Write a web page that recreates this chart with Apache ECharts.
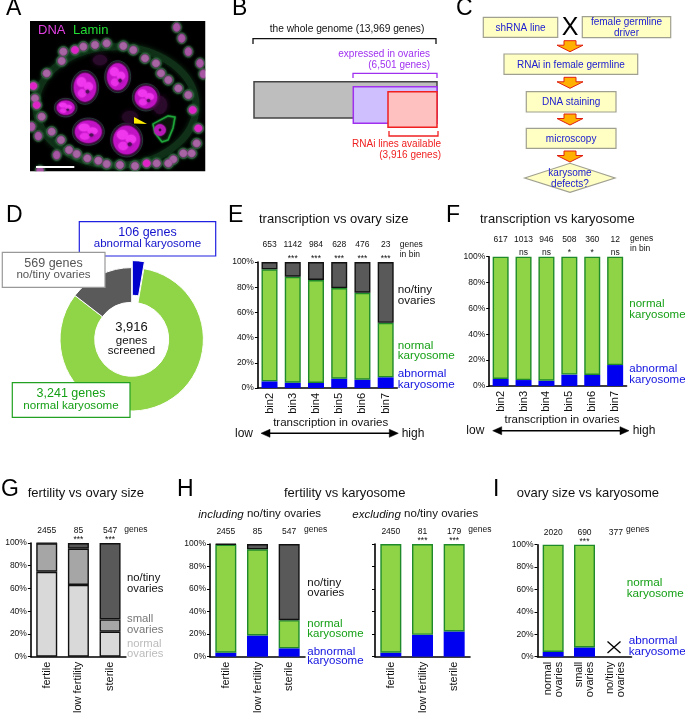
<!DOCTYPE html>
<html><head><meta charset="utf-8">
<style>html,body{margin:0;padding:0;background:#fff}#c{width:685px;height:716px}</style>
<script src="https://cdn.jsdelivr.net/npm/echarts@6/dist/echarts.min.js"></script>
</head><body><div id="c"></div>
<script>
// ---------- DATA ----------
const binCats = ['bin2','bin3','bin4','bin5','bin6','bin7'];
const fertCats = ['fertile','low fertility','sterile'];
const ovaryCats = ['normal\novaries','small\novaries','no/tiny\novaries'];

const donutNames = ['abnormal karyosome','normal karyosome','no/tiny ovaries'];
const donutGenes = [106,3241,569];

const eCounts = ['653','1142','984','628','476','23'];
const eStars  = ['','***','***','***','***','***'];
const eAbnormal = [5.3,4.2,4.0,7.4,6.6,8.5];
const eNormal   = [88.9,84.1,81.7,71.9,69.0,43.2];
const eNoTiny   = [5.8,11.7,14.3,20.7,24.4,48.3];

const fCounts = ['617','1013','946','508','360','12'];
const fStars  = ['','ns','ns','*','*','ns'];
const fAbnormal = [5.4,4.6,4.1,8.8,8.5,16.2];
const fNormal   = [94.6,95.4,95.9,91.2,91.5,83.8];

const gCounts = ['2455','85','547'];
const gStars  = ['','***','***'];
const gNormalOv = [74.7,63.1,22.0];
const gSmallOv  = [25.0,31.9,10.8];
const gNoTiny   = [0.3,5.0,67.2];

const h1Counts = ['2455','85','547'];
const h1Stars  = ['','',''];
const h1Abnormal = [3.5,18.8,7.4];
const h1Normal   = [96.0,76.5,25.0];
const h1NoTiny   = [0.5,4.7,67.6];

const h2Counts = ['2450','81','179'];
const h2Stars  = ['','***','***'];
const h2Abnormal = [3.5,19.4,22.4];
const h2Normal   = [96.5,80.6,77.6];

const iCounts = ['2020','690','377'];
const iStars  = ['','***',''];
const iAbnormal = [4.2,8.3,null];
const iNormal   = [95.8,91.7,null];

// ---------- STYLE ----------
const FONT='"Liberation Sans",Arial,sans-serif';
const C={green:'#8fd446',gEdge:'#1f8a2a',gText:'#16a016',blue:'#0000f0',bText:'#1212e0',
  dark:'#595959',mid:'#a6a6a6',light:'#d9d9d9'};
const gfx=[];
function T(x,y,text,size,fill,align,extra){
  gfx.push({type:'text',silent:true,z:20,style:Object.assign({x:x,y:y,text:text,fill:fill||'#111',
    font:(size||11)+'px '+FONT,fontSize:size||11,fontFamily:FONT,align:align||'left',textAlign:align||'left',verticalAlign:'middle',textVerticalAlign:'middle'},extra||{})});
}
function R(x0,y0,x1,y1,fill,stroke,lw,z){
  gfx.push({type:'rect',silent:true,z:z||10,shape:{x:x0,y:y0,width:x1-x0,height:y1-y0},style:{fill:fill,stroke:stroke,lineWidth:lw||1}});
}
function P(points,stroke,lw,fill,z){
  gfx.push({type:fill?'polygon':'polyline',silent:true,z:z||10,shape:{points:points},style:{fill:fill||'none',stroke:stroke,lineWidth:lw||1}});
}
function E(cx,cy,rx,ry,fill,stroke,lw,blur,z,rot){
  gfx.push({type:'ellipse',silent:true,z:z||5,x:cx,y:cy,rotation:rot||0,shape:{cx:0,cy:0,rx:rx,ry:ry},
    style:{fill:fill||'none',stroke:stroke||'none',lineWidth:lw||1,shadowBlur:blur||0,shadowColor:blur?(stroke||fill):'transparent'}});
}

// panels letters
[['A',6,9],['B',232,9],['C',456,9],['D',6,216],['E',228,216],['F',446,216],['G',1,490],['H',177,490],['I',493,490]]
 .forEach(l=>T(l[1],l[2],l[0],23,'#000'));

// ---------- Panel A (micrograph drawn as decoration) ----------
R(30,21,205.5,171.5,'#000','none',1,2);
const follicle=[[190,155],[225,150],[250,140],[285,135],[320,130],[370,138],[400,150],[435,175],[468,190],[483,220],[505,240],[535,265],[565,285],[578,330],[595,385],[590,430],[575,460],[550,460],[520,478],[505,490],[470,490],[440,490],[405,498],[360,495],[320,492],[295,482],[262,475],[230,462],[207,450],[183,420],[155,395],[125,350],[110,315],[105,295],[100,258],[140,220],[185,183]];
const bright=[[225,150],[100,258],[578,330],[595,385],[440,490],[110,315]];
const outer=[[530,82],[545,115],[565,155],[600,190],[610,222],[170,465],[115,408],[95,380],[120,512]];
E(348/3,318/3,240/3,178/3,'none','#103018',7,5,3);
follicle.forEach(p=>{E(p[0]/3,p[1]/3,5.2,5.2,'#2c3a2e','#1c7030',.7,3,4);E(p[0]/3,p[1]/3,3.7,3.7,'#a868a4','#9a5098',.5,3,5);});
outer.forEach(p=>{E(p[0]/3,p[1]/3,4.6,5.4,'#2a382c','#1c6a2c',.7,3,4);E(p[0]/3,p[1]/3,3.4,4.1,'#a858a4','#9a4898',.5,3,5);});
bright.forEach(p=>E(p[0]/3,p[1]/3,3.2,3,'#e024c8','#e024c8',.5,2,6));
[[255,262,35,45],[353,230,33,42],[438,292,35,35],[197,323,28,22],[265,395,42,35],[380,420,42,45]].forEach(n=>{
  const x=n[0]/3,y=n[1]/3,a=n[2]/3,b=n[3]/3;
  E(x,y,a+2,b+2,'#0a0e0a','#0d5e2c',.7,0,5);
  E(x,y,a*.94,b*.94,'#c014c4','#c014c4',.5,4,6);
  E(x-a*.3,y-b*.35,a*.38,b*.3,'#f038ee','#f038ee',.5,2,7);
  E(x+a*.3,y-b*.05,a*.35,b*.28,'#f038ee','#f038ee',.5,2,7);
  E(x-a*.25,y+b*.4,a*.33,b*.26,'#ea30e8','#ea30e8',.5,2,7);
  E(x+a*.22,y+b*.28,a*.13,b*.11,'#50105a','#50105a',.5,2,8);
});
E(160,105,7,9,'#2c0c2c','#2c0c2c',.5,6,5);E(130,117,8,6,'#240a24','#240a24',.5,6,5);E(100,60,7,5,'#2c0c2c','#2c0c2c',.5,6,5);
gfx.push({type:'polygon',silent:true,z:8,shape:{points:[[153,124],[168,116],[175,117],[173,128],[168,140],[162,142],[155,133]]},style:{fill:'#0a120a',stroke:'#1fa53a',lineWidth:1.4,shadowBlur:2,shadowColor:'#1fa53a'}});
E(160,130,5.5,5.5,'#b81ab8','#b81ab8',.5,2,9);E(160,130,1.4,1.4,'#400a40',null,1,0,10);
P([[134,117],[134,123.5],[147,124]],'none',1,'#ffee00',9);
R(36,166,74.3,168,'#fff','none',1,12);
T(38,30.5,'DNA',13,'#e040e0');T(73,30.5,'Lamin',13,'#22dd33');
R(0,18,30,175,'#fff','none',1,9);R(205.5,18,225,175,'#fff','none',1,9);R(0,171.5,225,182,'#fff','none',1,9);R(0,10,225,21,'#fff','none',1,9);

// ---------- Panel B ----------
T(347,29,'the whole genome (13,969 genes)',10.2,'#111','center');
P([[253,44],[253,38.7],[436,38.7],[436,44]],'#111',1.3);
R(254,81.7,437,118,'#bebebe','#444',1.5);
R(353.3,86.7,437,123.3,'#d0bfff','#a030f0',1.5);
R(388,91.7,437,127.3,'#ffc0c0','#f02020',1.5);
T(430,54.7,'expressed in ovaries',10,'#a030f0','right');T(430,65.7,'(6,501 genes)',10,'#a030f0','right');
P([[353,78],[353,73.3],[437,73.3],[437,78]],'#a030f0',1.3);
P([[389,131],[389,136],[438,136],[438,131]],'#f02020',1.3);
T(441,144.7,'RNAi lines available',10,'#f02020','right');T(441,155.7,'(3,916 genes)',10,'#f02020','right');

// ---------- Panel C ----------
const BOX='#ffffc4',EDGE='#a0a090',TX='#2020d0';
function cbox(x0,y0,x1,y1,lines){
  R(x0,y0,x1,y1,BOX,EDGE,1.2);
  const cx=(x0+x1)/2,cy=(y0+y1)/2+.7;
  lines.forEach((s,i)=>T(cx,cy+(i-(lines.length-1)/2)*11,s,10,TX,'center'));
}
cbox(483.3,17.3,557.7,37.3,['shRNA line']);
cbox(582.3,16.7,670.7,37.7,['female germline','driver']);
cbox(504,54,637.7,74.3,['RNAi in female germline']);
cbox(526.3,91.7,616,112,['DNA staining']);
cbox(526.3,128.3,616,148.3,['microscopy']);
T(570,28,'X',25,'#000','center');
P([[524.7,178],[570,163.3],[615,178],[570,192.3]],EDGE,1.2,BOX);
T(570,173.5,'karysome',10,TX,'center');T(570,184.5,'defects?',10,TX,'center');
[40.7,77.3,114,151].forEach(y=>{
  P([[564,y],[576,y],[576,y+4.5],[583,y+4.5],[570,y+11],[557,y+4.5],[564,y+4.5]],'#e02010',1,'#ffb000');
});

// ---------- Panel D ----------
R(79.3,221.7,215.7,256,'#fff','#2020e0',1.2,12);
T(147.5,232.3,'106 genes',12.5,'#1212cc','center');T(147.5,244,'abnormal karyosome',11.5,'#1212cc','center');
R(2.3,252.3,105,287.3,'#fff','#999',1.2,12);
T(53.5,264,'569 genes',12.5,'#555','center');T(53.5,275.3,'no/tiny ovaries',11.5,'#555','center');
R(12.3,382.7,130,417.3,'#fff','#22a022',1.2,12);
T(71,393.7,'3,241 genes',12.5,'#16a016','center');T(71,405.3,'normal karyosome',11.6,'#16a016','center');
T(131.5,327,'3,916',13,'#111','center');T(131.5,340.7,'genes',11.5,'#111','center');T(131.5,351.3,'screened',11.5,'#111','center');

// ---------- Bar panels ----------
const grids=[],xAxes=[],yAxes=[],series=[];
function panel(o){
  const g=grids.length;
  grids.push({left:o.left,top:o.top,width:o.width,height:o.height});
  const bx=xAxes.length;
  const common={gridIndex:g,type:'category',axisTick:{show:false}};
  xAxes.push(Object.assign({},common,{data:o.cats,position:'bottom',
    axisLine:{show:true,onZero:false,lineStyle:{color:'#000',width:1.6}},
    axisLabel:{show:!o.noX,interval:0,rotate:90,margin:5,fontSize:11,lineHeight:11,color:'#111',fontFamily:FONT}}));
  xAxes.push(Object.assign({},common,{data:o.counts,position:'top',axisLine:{show:false},
    axisLabel:{interval:0,margin:o.cm,fontSize:8.5,color:'#111',fontFamily:FONT}}));
  xAxes.push(Object.assign({},common,{data:o.stars,position:'top',axisLine:{show:false},
    axisLabel:{interval:0,margin:o.sm,fontSize:8.5,color:'#111',fontFamily:FONT}}));
  yAxes.push({gridIndex:g,type:'value',min:0,max:100,interval:20,position:'left',offset:o.yOff||0,
    axisLine:{show:true,lineStyle:{color:'#000',width:1.6}},axisTick:{show:true,length:3,lineStyle:{color:'#000',width:1}},
    splitLine:{show:false},axisLabel:{show:!o.noY,formatter:'{value}%',margin:4,fontSize:8.5,color:'#111',fontFamily:FONT}});
  o.series.forEach(s=>series.push({type:'bar',name:s.name,stack:'p'+g,xAxisIndex:bx,yAxisIndex:g,barWidth:o.barWidth,
    data:s.data,itemStyle:{color:s.color,borderColor:s.edge,borderWidth:s.edge==='none'?0:1.4},silent:true}));
}
const ser3=(a,n,t)=>[{name:'abnormal karyosome',data:a,color:C.blue,edge:'none'},{name:'normal karyosome',data:n,color:C.green,edge:C.gEdge},{name:'no/tiny ovaries',data:t,color:C.dark,edge:'#111'}];
const ser2=(a,n)=>[{name:'abnormal karyosome',data:a,color:C.blue,edge:'none'},{name:'normal karyosome',data:n,color:C.green,edge:C.gEdge}];

panel({left:257.9,top:262,width:139.4,height:126,cats:binCats,counts:eCounts,stars:eStars,cm:13,sm:-1,barWidth:16,series:ser3(eAbnormal,eNormal,eNoTiny)});
panel({left:489.2,top:256.7,width:137.4,height:129.3,cats:binCats,counts:fCounts,stars:fStars,cm:13,sm:0,barWidth:16,series:ser2(fAbnormal,fNormal)});
panel({left:30.9,top:543,width:95,height:114.7,cats:fertCats,counts:gCounts,stars:gStars,cm:8,sm:-1,barWidth:21,
  series:[{name:'normal ovaries',data:gNormalOv,color:C.light,edge:'#111'},{name:'small ovaries',data:gSmallOv,color:C.mid,edge:'#111'},{name:'no/tiny ovaries',data:gNoTiny,color:C.dark,edge:'#111'}]});
panel({left:210,top:544,width:95,height:113.3,cats:fertCats,counts:h1Counts,stars:h1Stars,cm:8,sm:-1,barWidth:21,series:ser3(h1Abnormal,h1Normal,h1NoTiny)});
panel({left:375,top:544,width:95,height:113.3,cats:fertCats,counts:h2Counts,stars:h2Stars,cm:8,sm:-1,barWidth:21,noY:true,series:ser2(h2Abnormal,h2Normal)});
panel({left:537.5,top:544.7,width:94,height:112,cats:ovaryCats,counts:iCounts,stars:iStars,cm:8,sm:-1,barWidth:21,series:ser2(iAbnormal,iNormal)});

// Panel texts
function lab(x,y,a,b,size,col,gap){T(x,y,a,size,col);T(x,y+(gap||10.7),b,size,col);}
T(259,219,'transcription vs ovary size',13);
T(399.7,244.3,'genes',8.5);T(399.7,254.7,'in bin',8.5);
lab(397.7,290,'no/tiny','ovaries',11.7,'#111');lab(397.7,345.3,'normal','karyosome',11.7,C.gText);lab(397.7,373.7,'abnormal','karyosome',11.7,C.bText);
T(330.7,422.7,'transcription in ovaries',11.5,'#111','center');T(244,433.3,'low',12,'#111','center');T(401.7,433.3,'high',12);
function arrow(x0,x1,y){P([[x0+6,y],[x1-6,y]],'#000',1.4);P([[x0,y],[x0+9,y-4],[x0+9,y+4]],'#000',.5,'#000');P([[x1,y],[x1-9,y-4],[x1-9,y+4]],'#000',.5,'#000');}
arrow(261,398.3,433.3);

T(480,219,'transcription vs karyosome',13);
T(630,239,'genes',8.5);T(630,249,'in bin',8.5);
lab(629.3,304.3,'normal','karyosome',11.5,C.gText);lab(629.3,369,'abnormal','karyosome',11.5,C.bText);
T(562,420.3,'transcription in ovaries',11.5,'#111','center');T(475.3,430.7,'low',12,'#111','center');T(632.7,430.7,'high',12);
arrow(492.7,629,430.7);

T(27.7,493.3,'fertility vs ovary size',13);
T(124.3,530,'genes',8.5);
lab(127,578,'no/tiny','ovaries',11.3,'#111');lab(127,619,'small','ovaries',11.3,'#777');lab(127,644.3,'normal','ovaries',11.3,'#bbb',9.7);

T(284,493.3,'fertility vs karyosome',13);
const rich={i:{fontStyle:'italic',fontSize:11.5,fontFamily:FONT,fill:'#111',color:'#111'},n:{fontSize:11.5,fontFamily:FONT,fill:'#111',color:'#111'}};
T(198.3,514.3,'{i|including}{n| no/tiny ovaries}',11.5,'#111','left',{rich:rich});
T(352.3,514.3,'{i|excluding}{n| no/tiny ovaries}',11.5,'#111','left',{rich:rich});
T(304,530,'genes',8.5);T(468.3,530,'genes',8.5);
lab(307.3,583.3,'no/tiny','ovaries',11.5,'#111',10);lab(307.3,623.7,'normal','karyosome',11.5,C.gText,10);lab(307.3,651.7,'abnormal','karyosome',11.5,C.bText,9.6);

T(516.7,493.3,'ovary size vs karyosome',13);
T(626,530,'genes',8.5);
lab(626.7,582.3,'normal','karyosome',11.7,C.gText,11.4);lab(628.7,640.3,'abnormal','karyosome',11.7,C.bText,11);
P([[607.5,641.5],[620.5,653]],'#000',1.3);P([[620.5,641.5],[607.5,653]],'#000',1.3);

// Donut
series.push({type:'pie',center:[131.7,339.3],radius:[37,71.7],startAngle:90,clockwise:true,
  selectedMode:'single',selectedOffset:7,silent:true,label:{show:false},labelLine:{show:false},
  itemStyle:{borderColor:'#fff',borderWidth:1},
  data:[{name:donutNames[0],value:donutGenes[0],selected:true,itemStyle:{color:'#0000cc'}},
        {name:donutNames[1],value:donutGenes[1],itemStyle:{color:'#90d448'}},
        {name:donutNames[2],value:donutGenes[2],itemStyle:{color:'#5a5a5a'}}]});

const chart=echarts.init(document.getElementById('c'),null,{renderer:'canvas'});
chart.setOption({animation:false,backgroundColor:'#fff',textStyle:{fontFamily:FONT},
  grid:grids,xAxis:xAxes,yAxis:yAxes,series:series,graphic:{elements:gfx}});
</script></body></html>
